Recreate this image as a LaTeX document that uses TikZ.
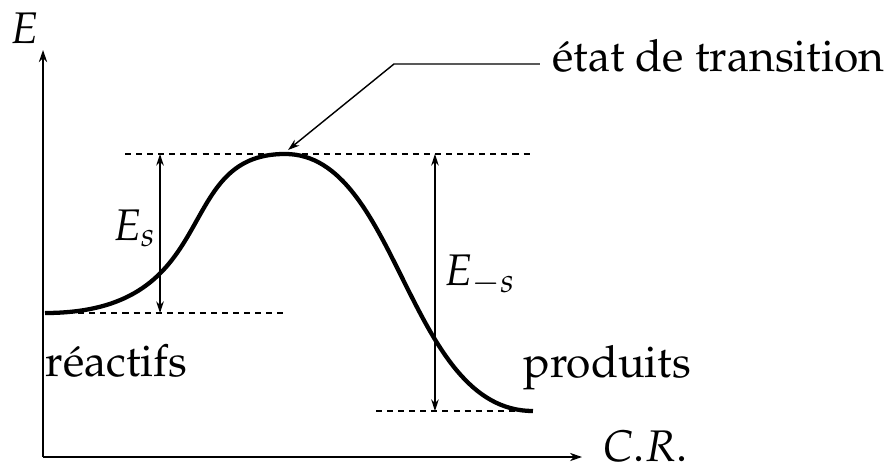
\documentclass[tikz,border=0pt]{standalone}
\usepackage[T1]{fontenc}
\usepackage{mathpazo}
\usetikzlibrary{arrows.meta,positioning}
\tikzset{
  axe/.style={line width=0.6pt,-{Stealth[length=3.8pt,width=2.6pt]}},
  fleche/.style={line width=0.45pt,{Stealth[length=3.7pt,width=2.4pt]}-{Stealth[length=3.7pt,width=2.4pt]}},
  renvoi/.style={line width=0.45pt,-{Stealth[length=3.7pt,width=2.4pt]}},
  niveau/.style={line width=0.45pt,dash pattern=on 1.9pt off 1.6pt},
  profil/.style={line width=1.35pt},
  etiq/.style={font=\fontsize{14pt}{17pt}\selectfont,inner sep=0pt}
}

\begin{document}
\begin{tikzpicture}
\useasboundingbox (0,0) rectangle (9.889,5.267);
% axes
\coordinate (O) at (0.478,0.189);
\coordinate (ymax) at (0.478,4.711);
\coordinate (xmax) at (6.467,0.189);
\draw[axe] (O) -- (ymax);
\draw[axe] (O) -- (xmax);
\node[etiq] (E) at (0.278,4.956) {$E$};
\node[etiq,anchor=west] (CR) at (6.69,0.31) {$C.R.$};
% niveaux d'energie
\coordinate (react) at (0.5,1.789);
\coordinate (peak) at (3.167,3.556);
\coordinate (prod) at (5.922,0.7);
\coordinate (reactfin) at (3.2,1.789);
\coordinate (hautdeb) at (1.389,3.556);
\coordinate (hautfin) at (5.922,3.556);
\coordinate (proddeb) at (4.178,0.7);
\draw[niveau] (react) -- (reactfin);
\draw[niveau] (hautdeb) -- (hautfin);
\draw[niveau] (proddeb) -- (prod);
% profil de la reaction
\draw[profil] (react) .. controls (2.5,1.789) and (1.889,3.556) .. (peak)
  .. controls (4.433,3.556) and (4.522,0.7) .. (prod);
% barrieres
\draw[fleche] (1.778,1.789) -- (1.778,3.556);
\draw[fleche] (4.833,0.7) -- (4.833,3.556);
\node[etiq,anchor=east] (Es) at (1.744,2.73) {$E_s$};
\node[etiq,anchor=west] (Ems) at (4.93,2.21) {$E_{-s}$};
% etiquettes
\node[etiq,anchor=base west] (reactifs) at (0.5,1.078) {réactifs};
\node[etiq,anchor=base west] (produits) at (5.811,1.067) {produits};
\node[etiq,anchor=base west] (etat) at (6.133,4.467) {état de transition};
\coordinate (fil) at (6.0,4.556);
\coordinate (coude) at (4.378,4.556);
\coordinate (sommet) at (3.2,3.6);
\draw[renvoi] (fil) -- (coude) -- (sommet);
\end{tikzpicture}
\end{document}
